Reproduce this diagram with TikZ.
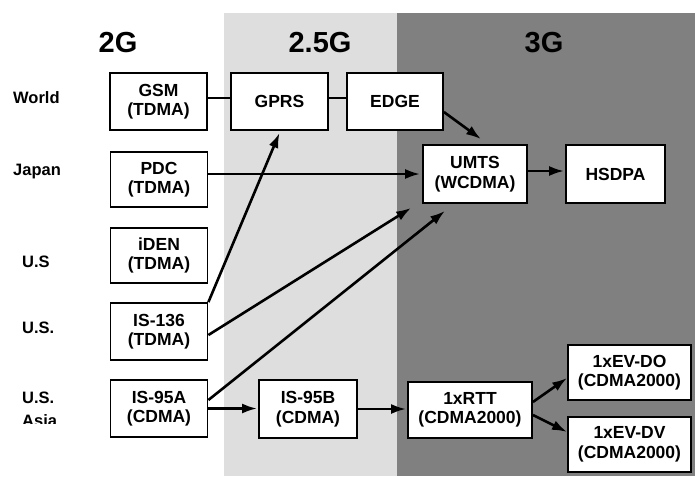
\documentclass[tikz,border=0pt]{standalone}
\usepackage{fontspec}
\setmainfont{Liberation Sans}
\usetikzlibrary{arrows.meta}
\definecolor{midgray}{HTML}{DEDEDE}
\definecolor{darkgray3}{HTML}{808080}
\tikzset{
  box/.style={draw=black, line width=1.8pt, fill=white, inner sep=0pt, align=center,
    font=\bfseries\fontsize{17.5}{19.5}\selectfont},
  rowlabel/.style={anchor=west, inner sep=0pt, font=\bfseries\fontsize{16.5}{18}\selectfont},
  header/.style={inner sep=0pt, font=\bfseries\fontsize{29}{31}\selectfont},
  link/.style={line width=2.8pt},
  arr/.style={line width=2.6pt, -{Latex[length=15pt,width=10pt]}}
}
\begin{document}
\begin{tikzpicture}[x=1pt,y=-1pt]
\useasboundingbox (0,0) rectangle (695,476);
\fill[white] (0,0) rectangle (695,476);
\fill[midgray] (224,13) rectangle (397,476);
\fill[darkgray3] (397,13) rectangle (695,476);

% headers
\node[header] (h2) at (118,43) {2G};
\node[header] (h25) at (320,43) {2.5G};
\node[header] (h3) at (544,43) {3G};

% row labels
\node[rowlabel] (lworld) at (13,98) {World};
\node[rowlabel] (ljapan) at (13,172) {Japan};
\node[rowlabel] (lus1) at (22,262) {U.S};
\node[rowlabel] (lus2) at (22,328) {U.S.};
\node[rowlabel] (lus3) at (22,398) {U.S.};
\begin{scope}
\clip (0,0) rectangle (100,423);
\node[rowlabel] (lasia) at (22,421) {Asia};
\end{scope}

% boxes
\node[box, minimum width=97pt, minimum height=57pt] (GSM) at (158.5,101.5) {GSM\\(TDMA)};
\node[box, minimum width=97pt, minimum height=57pt] (GPRS) at (279.5,101.5) {GPRS};
\node[box, minimum width=96pt, minimum height=57pt] (EDGE) at (395,101.5) {EDGE};
\node[box, minimum width=97pt, minimum height=55pt] (PDC) at (159,179.5) {PDC\\(TDMA)};
\node[box, minimum width=97pt, minimum height=55pt] (iDEN) at (159,255.5) {iDEN\\(TDMA)};
\node[box, minimum width=97pt, minimum height=57pt] (IS136) at (159,331.5) {IS-136\\(TDMA)};
\node[box, minimum width=97pt, minimum height=57pt] (IS95A) at (159,408.5) {IS-95A\\(CDMA)};
\node[box, minimum width=98pt, minimum height=58pt] (IS95B) at (308,409) {IS-95B\\(CDMA)};
\node[box, minimum width=104pt, minimum height=58pt] (UMTS) at (475,174) {UMTS\\(WCDMA)};
\node[box, minimum width=99pt, minimum height=58pt] (HSDPA) at (615.5,174) {HSDPA};
\node[box, minimum width=124pt, minimum height=56pt] (RTT) at (470,410) {1xRTT\\(CDMA2000)};
\node[box, minimum width=123pt, minimum height=55pt] (EVDO) at (629.5,372.5) {1xEV-DO\\(CDMA2000)};
\node[box, minimum width=123pt, minimum height=55pt] (EVDV) at (629.5,444.5) {1xEV-DV\\(CDMA2000)};

% connectors
\draw[link] ([yshift=3.5pt]GSM.east) -- ([yshift=3.5pt]GPRS.west);
\draw[link] ([yshift=3.5pt]GPRS.east) -- ([yshift=3.5pt]EDGE.west);
\draw[arr] ([yshift=-10.5pt]EDGE.east) -- ([shift={(6pt,5pt)}]UMTS.north);
\draw[arr] (IS136.north east) -- ([shift={(0pt,-2pt)}]GPRS.south);
\draw[arr, shorten >=2pt] (UMTS.west -| PDC.east) -- (UMTS.west);
\draw[arr] ([yshift=-3.5pt]IS136.east) -- ([shift={(-11pt,-4pt)}]UMTS.south west);
\draw[arr] ([yshift=8.5pt]IS95A.east) -- ([shift={(-30pt,-7pt)}]UMTS.south);
\draw[arr, shorten >=1pt] (IS95A.east) -- (IS95A.east -| IS95B.west);
\draw[arr, shorten >=1pt] (IS95B.east) -- (IS95B.east -| RTT.west);
\draw[arr, shorten >=1pt] ([yshift=3pt]UMTS.east) -- ([yshift=3pt]HSDPA.west);
\draw[arr] ([yshift=8pt]RTT.east) -- ([yshift=-5.5pt]EVDO.west);
\draw[arr] ([yshift=-5pt]RTT.east) -- ([yshift=12.5pt]EVDV.west);
\end{tikzpicture}
\end{document}
